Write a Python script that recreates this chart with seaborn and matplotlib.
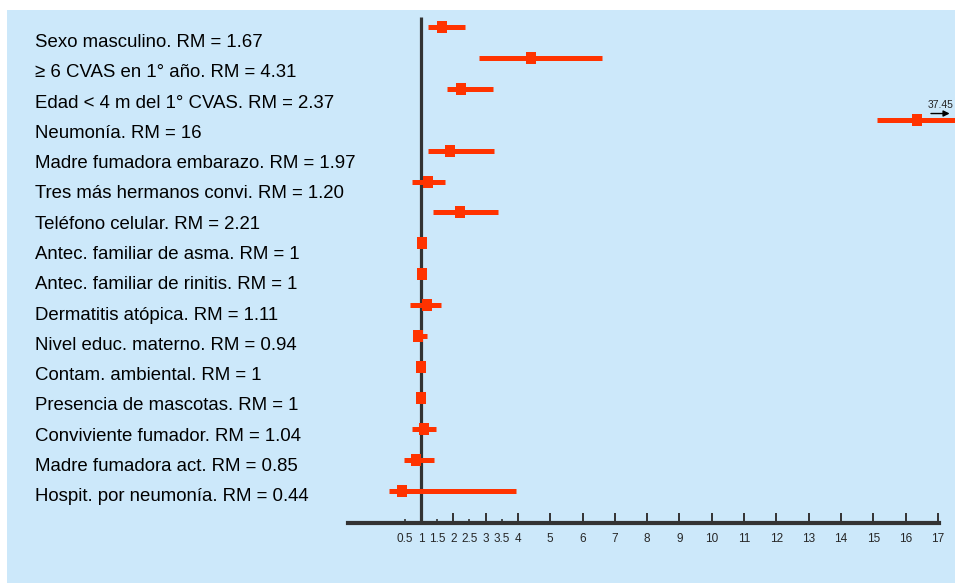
import pandas as pd
import matplotlib.pyplot as plt
import matplotlib.transforms as mtransforms
from matplotlib.patches import Rectangle
import seaborn as sns

labels = [
    "Sexo masculino. RM = 1.67",
    "\u2265 6 CVAS en 1\u00b0 a\u00f1o. RM = 4.31",
    "Edad < 4 m del 1\u00b0 CVAS. RM = 2.37",
    "Neumon\u00eda. RM = 16",
    "Madre fumadora embarazo. RM = 1.97",
    "Tres m\u00e1s hermanos convi. RM = 1.20",
    "Tel\u00e9fono celular. RM = 2.21",
    "Antec. familiar de asma. RM = 1",
    "Antec. familiar de rinitis. RM = 1",
    "Dermatitis at\u00f3pica. RM = 1.11",
    "Nivel educ. materno. RM = 0.94",
    "Contam. ambiental. RM = 1",
    "Presencia de mascotas. RM = 1",
    "Conviviente fumador. RM = 1.04",
    "Madre fumadora act. RM = 0.85",
    "Hospit. por neumon\u00eda. RM = 0.44",
]
# point estimates as drawn in the figure
rm = [1.65, 4.41, 2.24, 16.36, 1.90, 1.22, 2.21, 1.03, 1.03, 1.19, 0.91, 1, 1, 1.09, 0.85, 0.41]
ci_low = [1.22, 2.78, 1.80, 15.1, 1.22, 0.72, 1.37, 1.03, 1.03, 0.66, 0.75, 1, 1, 0.72, 0.47, 0.02]
ci_high = [2.37, 6.60, 3.23, 37.45, 3.26, 1.74, 3.38, 1.03, 1.03, 1.62, 1.19, 1, 1, 1.46, 1.40, 3.94]

major_ticks = list(range(2, 18))
minor_ticks = [0.5, 1, 1.5, 2.5, 3.5]

df = pd.DataFrame({"label": labels, "rm": rm, "low": ci_low, "high": ci_high})
df["row"] = range(len(df))

sns.set_style("white")
plt.rcParams["font.family"] = ["Liberation Sans", "DejaVu Sans"]

blue = "#cce8fa"
red = "#ff3300"
dark = "#333333"

fig = plt.figure(figsize=(9.55, 5.83), dpi=100, facecolor="white")
bg = Rectangle((7 / 955, 0), 1, 573 / 583, transform=fig.transFigure,
               facecolor=blue, edgecolor="none", zorder=-10)
fig.add_artist(bg)
ax = fig.add_axes([348 / 955, 60 / 583, 607 / 955, 513 / 583])
ax.set_facecolor("none")
ax.set_zorder(1)

# reference line at RM = 1
ax.vlines(1, -0.32, 16.05, color=dark, lw=2.3, zorder=1)

# confidence intervals and point estimates (slightly tall squares)
box = [(-0.42, -0.5), (0.42, -0.5), (0.42, 0.5), (-0.42, 0.5)]
ax.hlines(df["row"], df["low"], df["high"], color=red, lw=3.6, zorder=2)
sns.scatterplot(data=df, x="rm", y="row", marker=box, s=75, color=red,
                edgecolor="none", linewidth=0, ax=ax, zorder=3)

ax.set_xlim(-1.26, 17.53)
ax.set_ylim(16.05, -0.55)

# arrow for truncated CI
i = labels.index("Neumon\u00eda. RM = 16")
ax.annotate("", xy=(17.45, i - 0.2), xytext=(16.7, i - 0.2),
            arrowprops=dict(arrowstyle="-|>", color="black", lw=1, mutation_scale=9))
ax.text(17.07, i - 0.3, "37.45", fontsize=7.5, ha="center", va="bottom", color="#222222")

# row labels on the left
trans = mtransforms.blended_transform_factory(fig.transFigure, ax.transData)
for k, lab in enumerate(labels):
    fig.text(35 / 955, 0.98 * k + 0.5, lab, transform=trans, fontsize=13.4,
             va="center", ha="left", color="black")

for s in ["top", "right", "left"]:
    ax.spines[s].set_visible(False)
ax.spines["bottom"].set_bounds(-1.26, 17.05)
ax.spines["bottom"].set_linewidth(3)
ax.spines["bottom"].set_color(dark)

ax.set_yticks([])
ax.set_xticks(major_ticks)
ax.set_xticklabels([str(t) for t in major_ticks])
ax.set_xticks(minor_ticks, minor=True)
ax.set_xticklabels([str(t) for t in minor_ticks], minor=True)
ax.tick_params(axis="x", which="major", direction="in", length=7, width=1.4,
               color=dark, labelsize=8.5, pad=7, bottom=True)
ax.tick_params(axis="x", which="minor", direction="in", length=3, width=1.2,
               color=dark, labelsize=8.5, pad=7, bottom=True)
ax.set_xlabel("")
ax.set_ylabel("")

fig.savefig("out.png", dpi=100, facecolor=fig.get_facecolor())
